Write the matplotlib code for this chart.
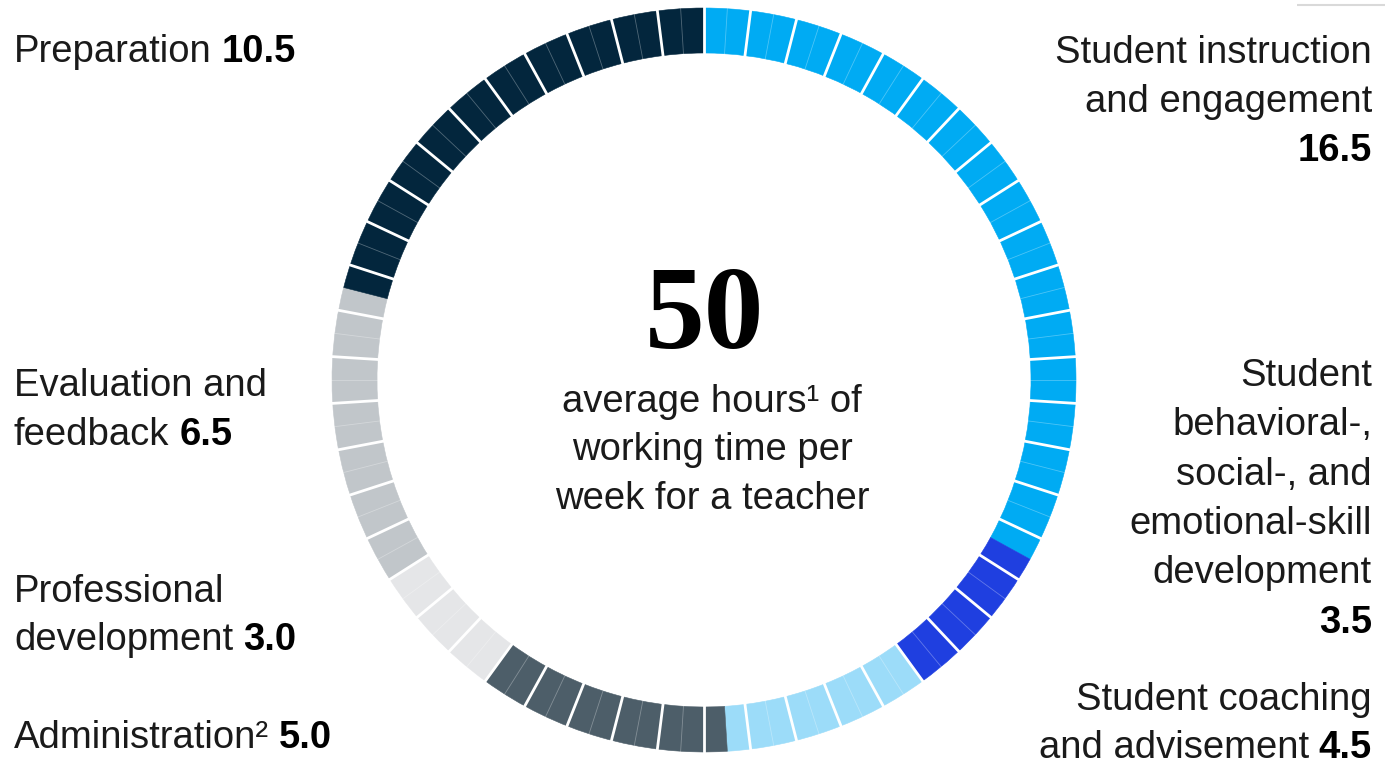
import numpy as np
import matplotlib
matplotlib.use("Agg")
import matplotlib.pyplot as plt
from matplotlib.patches import Wedge

# categories clockwise from 12 o'clock
categories = ["Student instruction and engagement",
              "Student behavioral-, social-, and emotional-skill development",
              "Student coaching and advisement",
              "Administration",
              "Professional development",
              "Evaluation and feedback",
              "Preparation"]
# hours shown in the labels
label_hours = [16.5, 3.5, 4.5, 5.0, 3.0, 6.5, 10.5]
# half-hour blocks as drawn in the ring (ring holds 50 hours)
ring_hours = [16.5, 3.5, 4.5, 5.5, 3.0, 6.5, 10.5]
colors = ["#00ABF3", "#1F3FE0", "#9CDCF9", "#4D5E69", "#E5E6E8", "#C1C6CA", "#03263D"]
total_hours = 50

plt.rcParams['font.family'] = ['Liberation Sans', 'DejaVu Sans']

fig = plt.figure(figsize=(13.85, 7.64), dpi=100)
ax = fig.add_axes([0, 0, 1, 1])
ax.set_xlim(0, 1385)
ax.set_ylim(764, 0)
ax.axis('off')

cx, cy = 704, 380
r_out, width = 372, 45
deg_per_hour = 360 / total_hours

# ring
bounds = np.concatenate([[0], np.cumsum(ring_hours)])
for i, c in enumerate(colors):
    t1 = bounds[i] * deg_per_hour - 90
    t2 = bounds[i + 1] * deg_per_hour - 90
    ax.add_patch(Wedge((cx, cy), r_out, t1, t2, width=width,
                       facecolor=c, edgecolor=c, linewidth=0.4))

def radial(h, **kw):
    a = np.deg2rad(h * deg_per_hour - 90)
    r = np.array([r_out - width - 2, r_out + 2])
    ax.plot(cx + r * np.cos(a), cy + r * np.sin(a), solid_capstyle='butt', **kw)

for h in range(total_hours):
    radial(h, color='white', lw=2.0)
    half = h + 0.5
    if not np.any(np.isclose(bounds, half)):
        radial(half, color='white', lw=0.6, alpha=0.3)

# centre text
ax.text(705, 348, "50", family='Liberation Serif', weight='bold', fontsize=86,
        ha='center', va='baseline', color='#000000')
center_lines = ["average hours\u00b9 of", "working time per", "week for a teacher"]
for k, s in enumerate(center_lines):
    ax.text(712, 412 + 48.5 * k, s, fontsize=27.5, ha='center', va='baseline', color='#1a1a1a')

fig.canvas.draw()
renderer = fig.canvas.get_renderer()
fs = 27.5
space = 10

def line(x, y, regular, bold=None, ha='left'):
    if ha == 'left':
        t = ax.text(x, y, regular, fontsize=fs, ha='left', va='baseline', color='#1a1a1a')
        if bold:
            w = t.get_window_extent(renderer).width
            ax.text(x + w + space, y, bold, fontsize=fs, weight='bold',
                    ha='left', va='baseline', color='#000000')
    else:
        if bold:
            tb = ax.text(x, y, bold, fontsize=fs, weight='bold', ha='right',
                         va='baseline', color='#000000')
            w = tb.get_window_extent(renderer).width
            if regular:
                ax.text(x - w - space, y, regular, fontsize=fs, ha='right',
                        va='baseline', color='#1a1a1a')
        else:
            ax.text(x, y, regular, fontsize=fs, ha='right', va='baseline', color='#1a1a1a')

def fmt(v):
    return f"{v:.1f}"

# left labels
line(14, 62, "Preparation", fmt(label_hours[6]))
line(14, 396, "Evaluation and")
line(14, 445, "feedback", fmt(label_hours[5]))
line(14, 602, "Professional")
line(14, 650, "development", fmt(label_hours[4]))
line(14, 748, "Administration\u00b2", fmt(label_hours[3]))

# right labels
xr = 1372
line(xr, 63, "Student instruction", ha='right')
line(xr, 112, "and engagement", ha='right')
line(xr, 161, "", fmt(label_hours[0]), ha='right')
right_block = ["Student", "behavioral-,", "social-, and", "emotional-skill", "development"]
for k, s in enumerate(right_block):
    line(xr, 386 + 49.3 * k, s, ha='right')
line(xr, 633, "", fmt(label_hours[1]), ha='right')
line(xr, 710, "Student coaching", ha='right')
line(xr, 758, "and advisement", fmt(label_hours[2]), ha='right')

# short rule top right
ax.plot([1297, 1385], [5, 5], color='#d9d9d9', lw=1.5, solid_capstyle='butt')

fig.savefig("out.png", dpi=100, facecolor='white')
